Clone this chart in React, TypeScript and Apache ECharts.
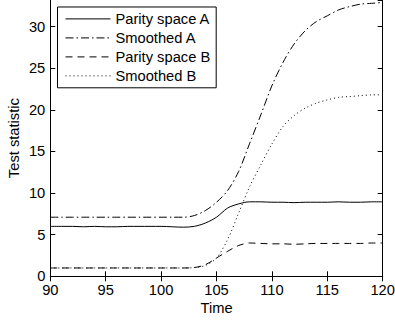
import React, { useEffect, useRef } from "react";
import * as echarts from "echarts";

const time = [90, 91, 92, 93, 94, 95, 96, 97, 98, 99, 100, 101, 102, 103, 104, 105, 106, 107, 108, 109, 110, 111, 112, 113, 114, 115, 116, 117, 118, 119, 120];
const parityA = [6.0, 6.0, 6.0, 5.95, 6.0, 5.95, 5.95, 6.0, 6.0, 6.0, 6.0, 5.95, 5.9, 6.0, 6.4, 7.1, 8.2, 8.7, 8.95, 8.95, 8.9, 8.9, 8.85, 8.9, 8.9, 8.9, 8.95, 8.9, 8.9, 8.95, 8.95];
const smoothedA = [7.1, 7.1, 7.1, 7.1, 7.1, 7.1, 7.1, 7.1, 7.1, 7.1, 7.1, 7.1, 7.1, 7.3, 7.9, 8.9, 10.3, 12.6, 16.0, 19.4, 22.9, 25.7, 27.9, 29.5, 30.6, 31.3, 32.0, 32.4, 32.7, 32.8, 32.9];
const parityB = [1.0, 1.0, 1.0, 1.0, 1.0, 1.0, 1.0, 1.0, 1.0, 1.0, 1.0, 1.0, 1.0, 1.05, 1.4, 2.2, 3.0, 3.7, 4.0, 3.95, 3.9, 3.9, 3.85, 3.9, 3.95, 3.95, 3.95, 3.95, 3.95, 4.0, 4.0];
const smoothedB = [1.0, 1.0, 1.0, 1.0, 1.0, 1.0, 1.0, 1.0, 1.0, 1.0, 1.0, 1.0, 1.0, 1.05, 1.3, 2.2, 4.4, 7.6, 10.8, 13.4, 15.9, 18.0, 19.3, 20.2, 20.8, 21.2, 21.5, 21.6, 21.7, 21.8, 21.8];
const seriesNames = ["Parity space A", "Smoothed A", "Parity space B", "Smoothed B"];
const xTicks = { min: 90, max: 120, interval: 5 };
const yTicks = { min: 0, max: 33.2, interval: 5 };

const FONT = "'Liberation Sans', Arial, Helvetica, sans-serif";
const FS = 14.7;

export default function App() {
  const ref = useRef<HTMLDivElement>(null);
  useEffect(() => {
    if (!ref.current) return;
    const chart = echarts.init(ref.current, undefined, { renderer: "svg" });
    const pairs = (vals: number[]) => time.map((t, i) => [t, vals[i]]);
    const styles: any[] = [
      { type: "solid" },
      { type: [8, 3, 1.5, 3] },
      { type: [7, 5] },
      { type: [1, 3] },
    ];
    const datas = [parityA, smoothedA, parityB, smoothedB];
    chart.setOption({
      animation: false,
      textStyle: { fontFamily: FONT },
      grid: { left: 50.3, right: 12.3, top: 0, bottom: 43.7, containLabel: false, outerBoundsMode: "none" },
      legend: {
        orient: "vertical",
        left: 57.5,
        top: 7,
        itemWidth: 45,
        itemHeight: 14,
        itemGap: 4,
        padding: [4.4, 6, 4.4, 7.5],
        borderColor: "#000",
        borderWidth: 1,
        backgroundColor: "#fff",
        itemStyle: { opacity: 0 },
        lineStyle: { width: 1 },
        textStyle: { fontFamily: FONT, fontSize: FS, color: "#000", lineHeight: 14.3 },
        data: seriesNames,
      },
      xAxis: [
        {
          type: "value",
          min: xTicks.min,
          max: xTicks.max,
          interval: xTicks.interval,
          name: "Time",
          nameLocation: "middle",
          nameGap: 24.5,
          nameMoveOverlap: false,
          nameTextStyle: { fontFamily: FONT, fontSize: FS, color: "#000" },
          axisLine: { show: true, lineStyle: { color: "#000", width: 1 } },
          axisTick: { show: true, inside: true, length: 5, lineStyle: { color: "#000" } },
          axisLabel: { fontFamily: FONT, fontSize: FS, color: "#000", margin: 6.5 },
          splitLine: { show: false },
        },
        {
          type: "value",
          position: "top",
          min: xTicks.min,
          max: xTicks.max,
          interval: xTicks.interval,
          axisLine: { show: false },
          axisTick: { show: true, inside: true, length: 5, lineStyle: { color: "#000" } },
          axisLabel: { show: false },
          splitLine: { show: false },
        },
      ],
      yAxis: [
        {
          type: "value",
          min: yTicks.min,
          max: yTicks.max,
          interval: yTicks.interval,
          name: "Test statistic",
          nameLocation: "middle",
          nameGap: 28.5,
          nameMoveOverlap: false,
          nameTextStyle: { fontFamily: FONT, fontSize: FS, color: "#000" },
          axisLine: { show: true, lineStyle: { color: "#000", width: 1 } },
          axisTick: { show: true, inside: true, length: 5, lineStyle: { color: "#000" } },
          axisLabel: { fontFamily: FONT, fontSize: FS, color: "#000", margin: 5, showMaxLabel: false },
          splitLine: { show: false },
        },
        {
          type: "value",
          position: "right",
          min: yTicks.min,
          max: yTicks.max,
          interval: yTicks.interval,
          axisLine: { show: true, lineStyle: { color: "#000", width: 1 } },
          axisTick: { show: true, inside: true, length: 5, lineStyle: { color: "#000" } },
          axisLabel: { show: false },
          splitLine: { show: false },
        },
      ],
      series: seriesNames.map((name, i) => ({
        name,
        type: "line",
        xAxisIndex: 0,
        yAxisIndex: 0,
        data: pairs(datas[i]),
        smooth: 0.3,
        symbol: "none",
        color: "#000",
        lineStyle: { color: "#000", width: 1, ...styles[i] },
      })),
    });
    return () => chart.dispose();
  }, []);
  return <div ref={ref} style={{ width: 395, height: 320, position: "absolute", left: 0, top: 0 }} />;
}
